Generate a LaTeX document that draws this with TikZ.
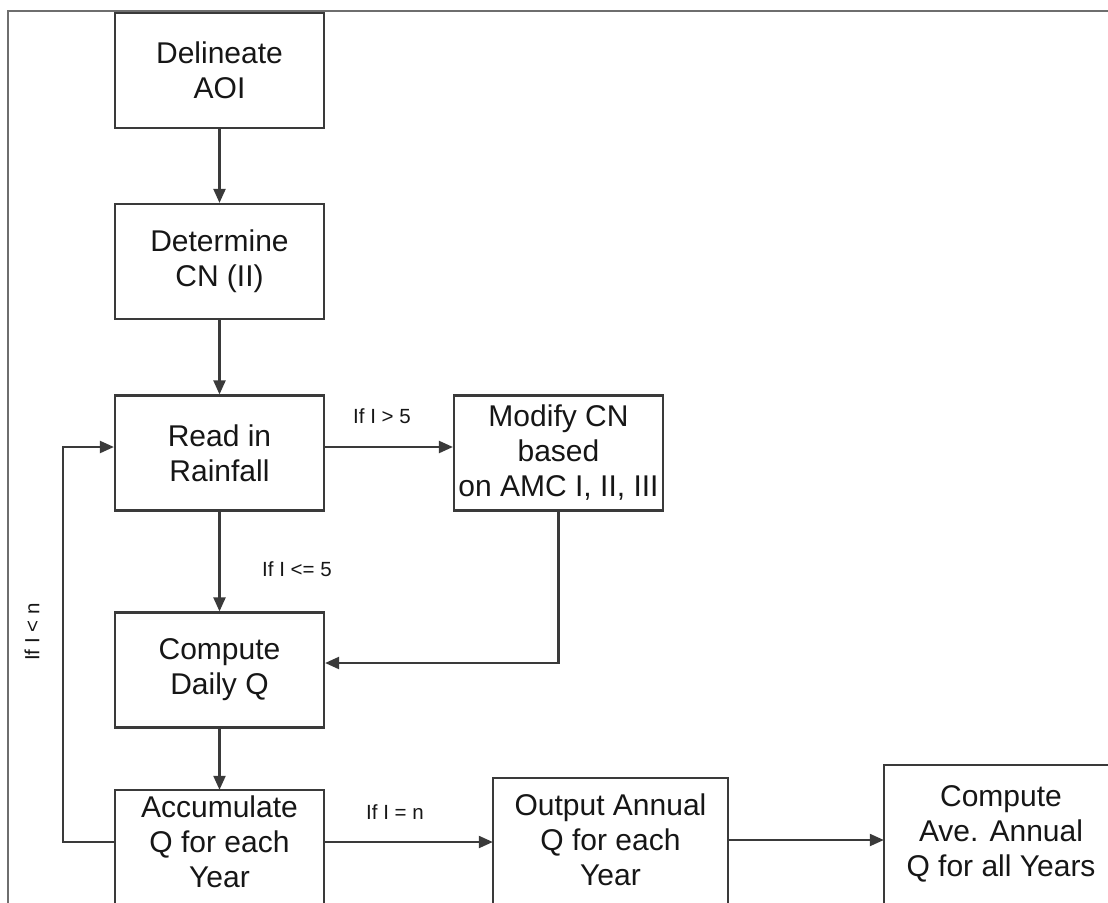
\documentclass[tikz,border=0pt]{standalone}
\usepackage{fontspec}
\setmainfont{Liberation Sans}
\usetikzlibrary{arrows.meta,calc}
\definecolor{boxc}{HTML}{3A3A3A}
\definecolor{framec}{HTML}{6E6E6E}
\definecolor{txtc}{HTML}{161616}
\begin{document}
\begin{tikzpicture}[x=1pt,y=-1pt,
  boxtext/.style={inner sep=0pt, align=center, text=txtc, font=\fontsize{30}{35}\selectfont},
  stepbox/.style={boxtext, draw=boxc, line width=2.2pt, minimum width=209pt, minimum height=115pt},
  openbox/.style={boxtext},
  boxline/.style={draw=boxc, line width=2.2pt},
  arr/.style={draw=boxc, line width=2.2pt, -{Triangle[length=14pt,width=12pt]}},
  lbl/.style={inner sep=0pt, text=txtc, font=\fontsize{20.5}{24}\selectfont},
  framel/.style={draw=framec, line width=2.2pt}]
\useasboundingbox (0,0) rectangle (1108,902);
\clip (0,0) rectangle (1108,902);
\draw[framel] (8,910) -- (8,11) -- (1120,11);

\node[stepbox] (del) at (219.5,70.5) {Delineate\\AOI};
\node[stepbox] (det) at (219.5,261.5) {Determine\\CN (II)};
\node[stepbox] (read) at (219.5,453) {Read in\\Rainfall};
\node[stepbox] (mod) at (558.5,453) {Modify CN\\based\\on AMC I, II, III};
\node[stepbox] (comp) at (219.5,670) {Compute\\Daily Q};

\node[openbox, minimum width=209pt, minimum height=104pt] (acc) at (219.5,842) {Accumulate\\Q for each\\Year};
\draw[boxline] ($(acc.south west)+(0,30)$) |- (acc.north east) -- ($(acc.south east)+(0,30)$);
\node[openbox, minimum width=235pt, minimum height=124pt] (out) at (610.5,840) {Output Annual\\Q for each\\Year};
\draw[boxline] ($(out.south west)+(0,30)$) |- (out.north east) -- ($(out.south east)+(0,30)$);
\node[openbox, minimum width=234pt, minimum height=138pt] (ave) at (1001,834) {Compute\\Ave. Annual\\Q for all Years};
\draw[boxline] ($(ave.south west)+(0,30)$) |- (ave.north east) -- ($(ave.south east)+(0,30)$);

\draw[arr] (del) -- (det);
\draw[arr] (det) -- (read);
\draw[arr] (read) -- (comp);
\draw[arr] (comp) -- (acc);
\draw[arr] ([yshift=6pt]read.east) -- ([yshift=6pt]mod.west);
\draw[arr] (mod.south) |- ([yshift=7pt]comp.east);
\draw[arr] (acc.east) -- (acc.east -| out.west);
\draw[arr] (out.east) -- (out.east -| ave.west);
\draw[arr] (acc.west) -- ++(-52,0) |- ([yshift=6pt]read.west);

\node[lbl] (l1) at (382,416) {If I > 5};
\node[lbl] (l2) at (297,569) {If I <= 5};
\node[lbl] (l3) at (395,812) {If I = n};
\node[lbl, rotate=90] (l4) at (32,632) {If I < n};
\end{tikzpicture}
\end{document}
